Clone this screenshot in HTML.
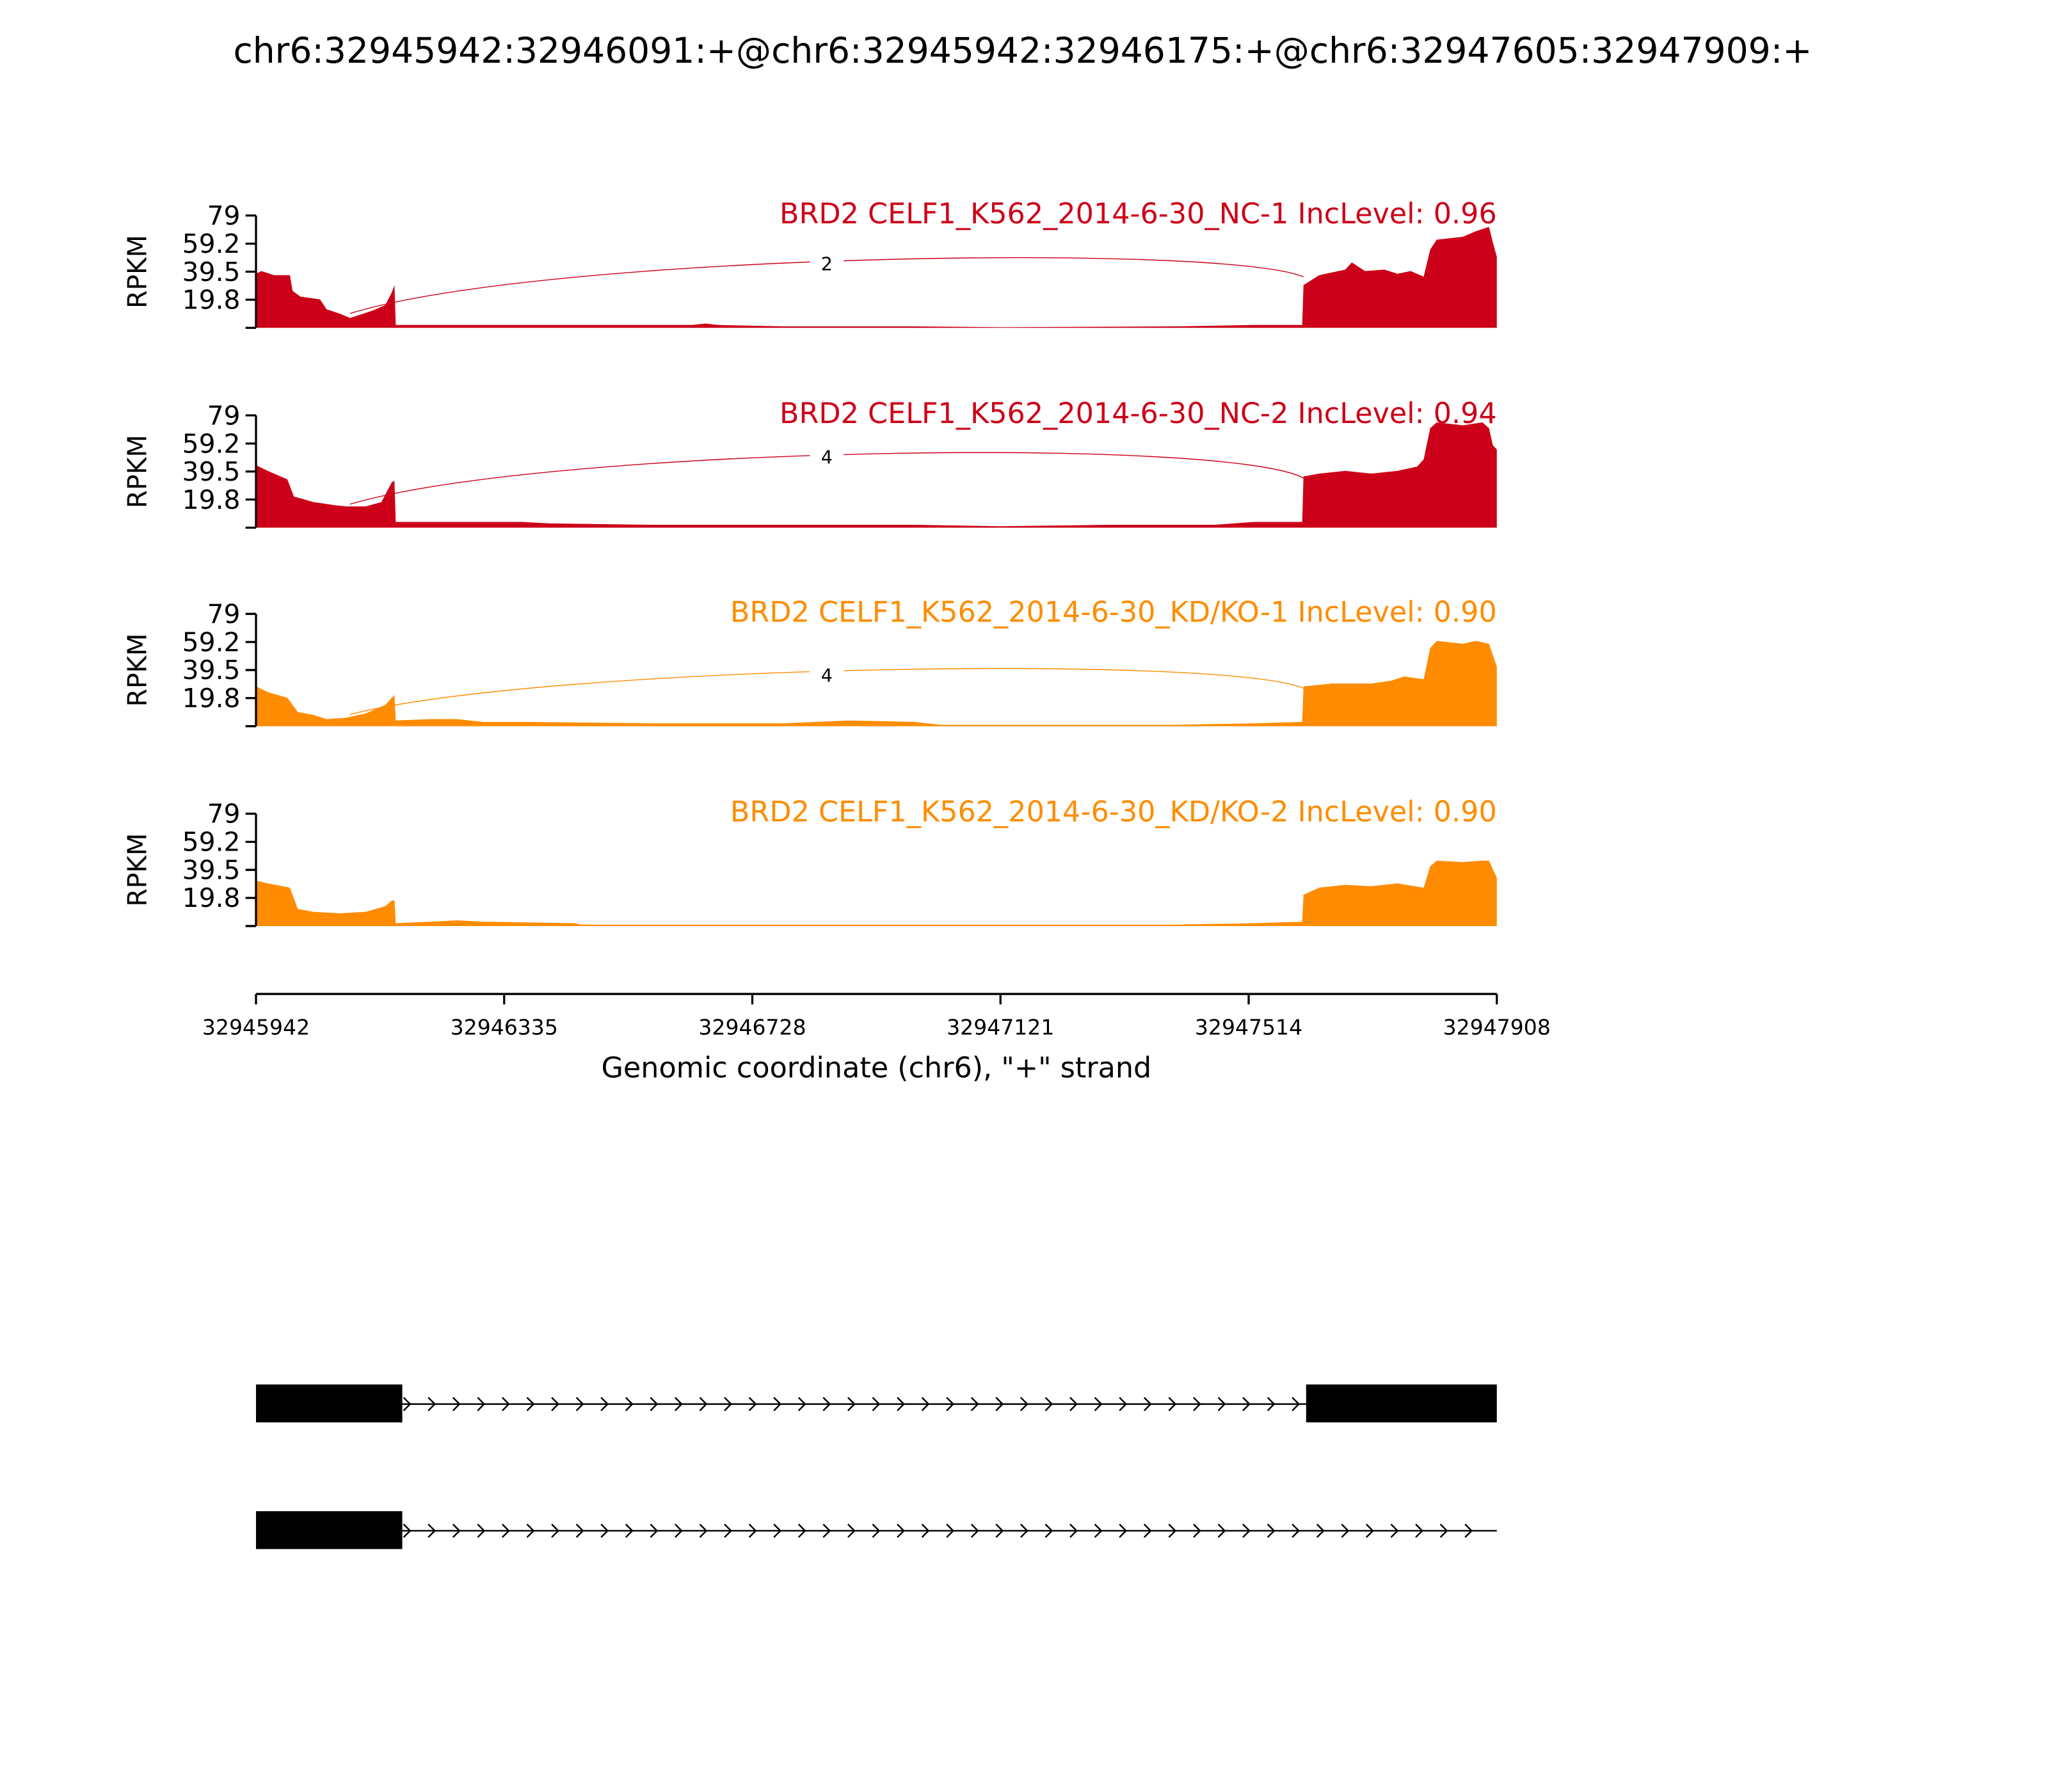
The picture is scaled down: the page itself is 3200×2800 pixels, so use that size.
<!DOCTYPE html>
<html><head><meta charset="utf-8"><style>
html,body{margin:0;padding:0;background:#fff}
svg{display:block}
text{font-family:"DejaVu Sans","Liberation Sans",sans-serif}
</style></head><body>
<svg id="s" width="3200" height="2800" viewBox="0 0 1568 1372" xmlns="http://www.w3.org/2000/svg">
<rect width="1568" height="1372" fill="#fff"/>
<text x="783" y="48" font-size="27" text-anchor="middle">chr6:32945942:32946091:+@chr6:32945942:32946175:+@chr6:32947605:32947909:+</text>
<g id="panels"></g>
<text x="1146" y="171" font-size="21.8" text-anchor="end" fill="#cc0018">BRD2 CELF1_K562_2014-6-30_NC-1 IncLevel: 0.96</text>
<text x="1146" y="324" font-size="21.8" text-anchor="end" fill="#cc0018">BRD2 CELF1_K562_2014-6-30_NC-2 IncLevel: 0.94</text>
<text x="1146" y="476" font-size="21.8" text-anchor="end" fill="#ff8c00">BRD2 CELF1_K562_2014-6-30_KD/KO-1 IncLevel: 0.90</text>
<text x="1146" y="629" font-size="21.8" text-anchor="end" fill="#ff8c00">BRD2 CELF1_K562_2014-6-30_KD/KO-2 IncLevel: 0.90</text>
<line x1="196" y1="761" x2="1146" y2="761" stroke="#000" stroke-width="1.6"/>
<g font-size="16.2" text-anchor="middle">
<line x1="196" y1="761" x2="196" y2="769" stroke="#000" stroke-width="1.6"/><text x="196" y="792">32945942</text>
<line x1="386" y1="761" x2="386" y2="769" stroke="#000" stroke-width="1.6"/><text x="386" y="792">32946335</text>
<line x1="576" y1="761" x2="576" y2="769" stroke="#000" stroke-width="1.6"/><text x="576" y="792">32946728</text>
<line x1="766" y1="761" x2="766" y2="769" stroke="#000" stroke-width="1.6"/><text x="766" y="792">32947121</text>
<line x1="956" y1="761" x2="956" y2="769" stroke="#000" stroke-width="1.6"/><text x="956" y="792">32947514</text>
<line x1="1146" y1="761" x2="1146" y2="769" stroke="#000" stroke-width="1.6"/><text x="1146" y="792">32947908</text>
</g>
<text x="671" y="825" font-size="21.8" text-anchor="middle">Genomic coordinate (chr6), "+" strand</text>
<rect x="196" y="1060" width="112" height="29" fill="#000"/>
<rect x="1000" y="1060" width="146" height="29" fill="#000"/>
<line x1="308" y1="1075" x2="1000" y2="1075" stroke="#000" stroke-width="1.2"/>
<rect x="196" y="1157" width="112" height="29" fill="#000"/>
<line x1="308" y1="1172" x2="1146" y2="1172" stroke="#000" stroke-width="1.2"/>
<g id="chev" fill="none" stroke="#000" stroke-width="1.2"></g>
</svg>
<script>
var NS="http://www.w3.org/2000/svg";
function el(t,a,p,txt){var e=document.createElementNS(NS,t);for(var k in a)e.setAttribute(k,a[k]);if(txt!==undefined)e.textContent=txt;p.appendChild(e);return e;}
var g=document.getElementById('panels');
var red="#cc0018",org="#ff8c00";
var panels=[
{top:165,col:red,arc:[268,240,998,212,200,"2"],p:[[196,38],[200,40],[210,37],[222,37],[224,26],[230,22],[245,20],[250,13],[260,10],[268,7],[275,9],[285,12],[295,16],[300,25],[302,30],[303,2],[380,2],[530,2],[540,3],[550,2],[600,1],[700,1],[766,0.5],[900,1],[960,2],[997,2],[998,30],[1010,37],[1030,41],[1035,46],[1045,40],[1060,41],[1070,38],[1080,40],[1090,36],[1095,55],[1100,62],[1120,64],[1130,68],[1140,71],[1143,60],[1146,50]]},
{top:318,col:red,arc:[268,386,998,366,348,"4"],p:[[196,44],[205,40],[220,34],[225,22],[240,18],[255,16],[265,15],[280,15],[292,18],[300,32],[302,33],[303,4],[330,4],[400,4],[420,3],[500,2],[600,2],[700,2],[766,1],[850,2],[930,2],[960,4],[997,4],[998,36],[1010,38],[1030,40],[1050,38],[1070,40],[1085,43],[1090,48],[1095,70],[1100,74],[1120,72],[1135,74],[1140,70],[1143,58],[1146,55]]},
{top:470,col:org,arc:[268,547,998,527,515,"4"],p:[[196,28],[205,24],[220,20],[228,10],[240,8],[250,5],[265,6],[280,9],[295,15],[300,20],[302,22],[303,4],[330,5],[350,5],[370,3],[400,3],[500,2],[600,2],[650,4],[700,3],[720,1],[766,1],[900,1],[960,2],[997,3],[998,28],[1020,30],[1050,30],[1065,32],[1075,35],[1090,33],[1095,55],[1100,60],[1120,58],[1130,60],[1140,58],[1143,50],[1146,42]]},
{top:623,col:org,arc:null,p:[[196,32],[205,30],[222,27],[228,12],[240,10],[260,9],[280,10],[295,14],[300,18],[302,18],[303,2],[330,3],[350,4],[370,3],[440,2],[445,1],[600,1],[700,1],[900,1],[960,2],[997,3],[998,22],[1010,27],[1030,29],[1050,28],[1070,30],[1090,27],[1095,42],[1100,46],[1120,45],[1135,46],[1140,46],[1143,40],[1146,34]]}
];
var s=86/79;
panels.forEach(function(P){
 var b=P.top+86;
 var d="M196,"+b;
 P.p.forEach(function(q){d+=" L"+q[0]+","+(b-q[1]*s).toFixed(1);});
 d+=" L1146,"+b+" Z";
 el('path',{d:d,fill:P.col},g);
 el('line',{x1:196,y1:P.top,x2:196,y2:b,stroke:"#000","stroke-width":1.6},g);
 [[79,"79"],[59.2,"59.2"],[39.5,"39.5"],[19.8,"19.8"],[0,""]].forEach(function(t){
  var y=b-t[0]*s;
  el('line',{x1:188,y1:y,x2:196,y2:y,stroke:"#000","stroke-width":1.6},g);
  if(t[1])el('text',{x:184,y:y+7,"font-size":20,"text-anchor":"end"},g,t[1]);
 });
 el('text',{x:0,y:0,"font-size":20,"text-anchor":"middle",transform:"translate(112,"+(P.top+43)+") rotate(-90)"},g,"RPKM");
 if(P.arc){
  var a=P.arc;
  el('path',{d:"M"+a[0]+","+a[1]+" C"+(a[0]+150)+","+(a[4]-6)+" "+(a[2]-60)+","+(a[4]-14)+" "+a[2]+","+a[3],fill:"none",stroke:P.col,"stroke-width":0.7},g);
  el('rect',{x:620,y:a[4]-10,width:26,height:18,fill:"#fff"},g);
  el('text',{x:633,y:a[4]+7,"font-size":14,"text-anchor":"middle"},g,a[5]);
 }
});
var c=document.getElementById('chev');
function chev(y,x0,x1){for(var x=x0;x<=x1;x+=18.9){el('path',{d:"M"+(x-3)+","+(y-5)+" L"+(x+2)+","+y+" L"+(x-3)+","+(y+5)},c);}}
chev(1075,312,998);chev(1172,312,1130);
</script>
</body></html>
